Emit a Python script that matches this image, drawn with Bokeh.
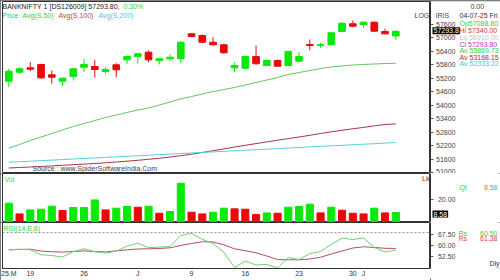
from bokeh.plotting import figure
from bokeh.layouts import column, row
from bokeh.models import Range1d, FixedTicker, Label, Span
from bokeh.embed import file_html
from bokeh.resources import INLINE

# ---------------- data ----------------
opens = [55071, 55472, 55668, 55816, 55356, 55071, 55280, 55695, 55726, 55503,
         55802, 56025, 56172, 56364, 55994, 56070, 56070, 57185, 57109, 56810,
         56694, 55668, 55651, 56172, 55771, 55994, 55771, 55963, 56708, 56663,
         56694, 57287, 57631, 57600, 57702, 57287, 57088.8]
highs = [55624, 55695, 55918, 55847, 55548, 55249, 55668, 56070, 56025, 55695,
         55874, 56217, 56337, 56440, 56114, 56262, 56855, 57212, 57154, 57033,
         56739, 55918, 56217, 56663, 56039, 56039, 56440, 56364, 56931, 56783,
         57256, 57702, 57778, 57733, 57733, 57408, 57340]
lows = [54803, 55401, 55517, 55178, 54955, 54866, 55102, 55472, 55222, 55401,
        55249, 55847, 55847, 55918, 55816, 55994, 55874, 57033, 56766, 56663,
        56293, 55472, 55624, 55816, 55740, 55713, 55740, 55918, 56440, 56560,
        56663, 57256, 57479, 57452, 57256, 57154, 56910]
closes = [55517, 55624, 55606, 55222, 55249, 55205, 55624, 55816, 55593, 55593,
          55579, 56172, 56293, 56025, 56070, 56141, 56810, 57064, 56810, 56694,
          56337, 55771, 56172, 55847, 55994, 55740, 56395, 56172, 56663, 56694,
          57229, 57658, 57524, 57702, 57301, 57185, 57293.8]
ma50 = [52083, 52248, 52426, 52582, 52738, 52894, 53050, 53184, 53318, 53452,
        53563, 53675, 53786, 53876, 54009, 54143, 54286, 54388, 54500, 54611,
        54701, 54790, 54901, 55013, 55124, 55236, 55370, 55459, 55548, 55637,
        55704, 55749, 55793, 55816, 55838, 55860, 55869.73]
ma100 = [51200, 51222, 51244, 51266, 51293, 51320, 51347, 51373, 51400, 51431,
         51467, 51503, 51543, 51588, 51632, 51690, 51748, 51815, 51891, 51971,
         52047, 52136, 52212, 52288, 52364, 52439, 52511, 52582, 52658, 52738,
         52814, 52881, 52948, 53010, 53077, 53140, 53168.15]
ma200 = [51458, 51480, 51503, 51527, 51551, 51575, 51600, 51624, 51648, 51672,
         51697, 51722, 51746, 51770, 51795, 51820, 51845, 51870, 51894, 51918,
         51943, 51968, 51993, 52017, 52041, 52066, 52090, 52115, 52139, 52163,
         52188, 52212, 52236, 52260, 52285, 52309, 52333.22]
volume = [17.0, 7.4, 11.0, 11.6, 14.3, 10.4, 13.1, 13.1, 19.9, 11.0,
          12.5, 14.0, 13.4, 14.3, 8.0, 9.5, 34.8, 8.9, 7.4, 8.9,
          12.5, 11.9, 11.6, 6.8, 8.3, 8.0, 13.4, 14.0, 16.1, 8.3,
          13.4, 10.7, 8.0, 7.4, 12.5, 8.3, 8.58]
vol_up = [1, 0, 1, 1, 1, 0, 1, 1, 1, 0, 1, 1, 0, 1, 0, 1, 1, 0, 0, 1,
          1, 0, 0, 0, 1, 0, 1, 1, 1, 0, 1, 0, 0, 0, 1, 0, 1]
rsi = [60.65, 60.98, 60.65, 57.93, 57.55, 56.74, 59.73, 61.2, 59.6, 58.9,
       59.84, 62.72, 64.24, 61.8, 62.12, 62.45, 68.42, 69.67, 66.36, 64.08,
       59.35, 51.0, 54.57, 52.39, 52.66, 50.8, 56.47, 55.38, 58.53, 59.73,
       63.53, 67.07, 66.25, 67.07, 61.9, 59.46, 60.5]
rsi_sig = [60.65, 60.82, 60.98, 59.95, 59.62, 59.4, 59.73, 60.05, 59.73, 59.46,
           60.11, 60.65, 61.09, 61.2, 61.36, 61.74, 63.0, 64.08, 65.0, 64.9,
           63.37, 61.2, 60.16, 59.02, 57.28, 55.38, 55.22, 55.22, 55.65, 56.58,
           58.37, 60.0, 61.63, 62.28, 61.9, 61.47, 61.38]
date_ticks = [0, 2, 7, 12, 17, 22, 27, 32, 33]
date_labels = ["25.M", "19", "26", "J", "9", "16", "23", "30", "J"]
price_ticks = [51000, 51600, 52200, 52800, 53400, 54000, 54600, 55200, 55800,
               56400, 57000, 57600]
vol_ticks = [20]
rsi_ticks = [52.5, 60.0, 67.5]

n = len(closes)
idx = list(range(n))

# ---------------- styles ----------------
GREEN = "#0be80b"
RED = "#e80a0a"
TXT_GREEN = "#3ccc3c"
FONT = "Liberation Sans"

# pixel helpers (layout only)
def X(cx):
    return (cx - 8.3) / 10.75

def BX(cx):
    return cx - 430

def PY(cy):
    return 58670 - 44.6 * cy

def VY(cy):
    return (221.7 - cy) / 1.12

def RY(cy):
    return 67.5 + (236.7 - cy) / 1.84

xr = Range1d(X(2), X(430))
bxr = Range1d(0, 70)


def mkA(h, yr, top=0, bottom=0, xaxis=False):
    p = figure(width=430, height=h, x_range=xr, y_range=yr,
               output_backend="svg", toolbar_location=None,
               x_axis_location="below" if xaxis else None,
               y_axis_location=None,
               min_border_left=2, min_border_right=0,
               min_border_top=top, min_border_bottom=bottom)
    p.xgrid.visible = False
    p.ygrid.visible = False
    p.outline_line_color = "#333333"
    p.outline_line_width = 1
    p.background_fill_color = "white"
    p.border_fill_color = "white"
    return p


def mkB(h, yr, ticks, overrides, top=0):
    p = figure(width=70, height=h, x_range=bxr, y_range=yr,
               output_backend="svg", toolbar_location=None,
               x_axis_location=None, y_axis_location="left",
               min_border_left=0, min_border_right=0,
               min_border_top=top, min_border_bottom=0)
    p.xgrid.visible = False
    p.ygrid.visible = False
    p.outline_line_color = None
    p.background_fill_color = "white"
    p.border_fill_color = "white"
    ax = p.yaxis[0]
    ax.ticker = FixedTicker(ticks=ticks)
    ax.major_label_overrides = overrides
    ax.axis_line_color = "#333333"
    ax.major_tick_out = 0
    ax.major_tick_in = 3
    ax.minor_tick_line_color = None
    ax.major_tick_line_color = "#555555"
    ax.major_label_standoff = -25
    ax.major_label_text_font = FONT
    ax.major_label_text_font_size = "7px"
    ax.major_label_text_color = "#444444"
    return p


def lab(p, x, y, text, color, align="left", size="7px", bg=None):
    kw = {}
    if bg:
        kw = dict(background_fill_color=bg, background_fill_alpha=1.0, padding=1)
    p.add_layout(Label(x=x, y=y, text=text, text_color=color, text_align=align,
                       text_baseline="middle", text_font=FONT,
                       text_font_size=size, **kw))

# ---------------- price panel ----------------
pyr = Range1d(PY(173), PY(1))
a1 = mkA(173, pyr, top=1)
b1 = mkB(173, pyr, price_ticks, {t: str(t) for t in price_ticks}, top=1)

ccol = [GREEN if c >= o else RED for o, c in zip(opens, closes)]
btop = [max(o, c) for o, c in zip(opens, closes)]
bbot = [min(o, c) for o, c in zip(opens, closes)]
a1.line(idx, ma50, line_color="#62c862", line_width=1)
a1.line(idx, ma100, line_color="#a83545", line_width=1)
a1.line(idx, ma200, line_color="#55d2da", line_width=1)
a1.segment(x0=idx, y0=lows, x1=idx, y1=highs, line_color=ccol, line_width=1)
a1.vbar(x=idx, width=0.62, top=btop, bottom=bbot, fill_color=ccol, line_color=ccol)

lab(a1, X(2), PY(6), "BANKNIFTY 1 [DS126009] 57293.80,", "#222222")
lab(a1, X(123), PY(6), "0.30%", TXT_GREEN)
lab(a1, X(2), PY(14.5), "Price", TXT_GREEN)
lab(a1, X(22), PY(14.5), "Avg(S,50)", TXT_GREEN)
lab(a1, X(58), PY(14.5), "Avg(S,100)", "#c04050")
lab(a1, X(98), PY(14.5), "Avg(S,200)", "#45c8e0")
lab(a1, X(32), PY(168), "Source : www.SpiderSoftwareIndia.Com", "#444444")
lab(a1, X(414), PY(15), "LOG", "#444444")

lab(b1, BX(435), PY(15), "IRIS", "#444444")
lab(b1, BX(470), PY(6), "0.00", "#444444")
lab(b1, BX(459), PY(15), "04-07-25 Fri", "#333333")
lab(b1, BX(459), PY(22.7), "Op57088.80", TXT_GREEN)
lab(b1, BX(459), PY(30.3), "Hi 57340.00", "#e03535")
lab(b1, BX(459), PY(37.3), "Lo 56910.00", "#c4c4c4")
lab(b1, BX(459), PY(43.8), "Cl 57293.80", "#b040c0")
lab(b1, BX(459), PY(50.3), "Av 55869.73", TXT_GREEN)
lab(b1, BX(459), PY(56.8), "Av 53168.15", "#b03040")
lab(b1, BX(459), PY(63.3), "Av 52333.22", "#45c8e0")
lab(b1, BX(432), PY(30.3), "57293.8", "white", bg="black")

# ---------------- volume panel ----------------
vyr = Range1d(VY(222), VY(173))
a2 = mkA(49, vyr)
b2 = mkB(49, vyr, vol_ticks, {20: "20.00"})
vcol = [GREEN if u else RED for u in vol_up]
a2.vbar(x=idx, width=0.66, top=volume, bottom=0, fill_color=vcol, line_color=vcol)
lab(a2, X(4), VY(178.5), "Vol", TXT_GREEN)
lab(a2, X(429), VY(177.5), "Lk", "#444444", align="right")
lab(b2, BX(459), VY(186.5), "Qt", TXT_GREEN)
lab(b2, BX(497), VY(186.5), "8.58", TXT_GREEN, align="right")
lab(b2, BX(432), VY(213.5), "8.58", "white", bg="black")

# ---------------- RSI panel ----------------
a3 = mkA(58, Range1d(RY(268), RY(222)), bottom=12, xaxis=True)
b3 = mkB(58, Range1d(RY(280), RY(222)), rsi_ticks,
         {52.5: "52.50", 60.0: "60.00", 67.5: "67.50"})
xa = a3.xaxis[0]
xa.ticker = FixedTicker(ticks=date_ticks)
xa.major_label_overrides = {t: l for t, l in zip(date_ticks, date_labels)}
xa.major_label_text_align = "left"
xa.major_tick_out = 0
xa.major_tick_in = 0
xa.minor_tick_line_color = None
xa.axis_line_color = "#333333"
xa.major_label_standoff = 1
xa.major_label_text_font = FONT
xa.major_label_text_font_size = "7px"
xa.major_label_text_color = "#333333"

a3.add_layout(Span(location=70, dimension="width", line_color="#888888",
                   line_dash="2 2", line_width=1))
a3.line(idx, rsi_sig, line_color="#b05060", line_width=1)
a3.line(idx, rsi, line_color="#70d070", line_width=1)
lab(a3, X(3), RY(227.5), "RSI(14,E,8)", TXT_GREEN)
lab(b3, BX(458), RY(236), "Rs", TXT_GREEN)
lab(b3, BX(497), RY(236), "60.50", TXT_GREEN, align="right")
lab(b3, BX(458), RY(242.5), "Rs", "#e04050")
lab(b3, BX(497), RY(242.5), "61.38", "#e04050", align="right")
lab(b3, BX(489), RY(274), "Dly", "#333333")

layout = column(row(a1, b1, spacing=0), row(a2, b2, spacing=0),
                row(a3, b3, spacing=0), spacing=0,
                styles={"outline": "2px solid #555555", "outline-offset": "-2px"})

with open("out.html", "w") as f:
    f.write(file_html(layout, INLINE))
